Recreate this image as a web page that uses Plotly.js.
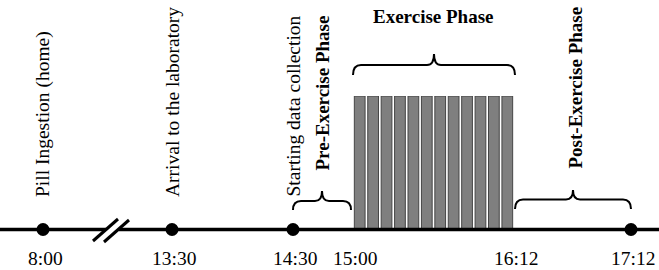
<!DOCTYPE html>
<html>
<head>
<meta charset="utf-8">
<script src="https://cdn.plot.ly/plotly-3.0.1.min.js"></script>
<style>html,body{margin:0;padding:0;background:#fff;}#chart{width:659px;height:270px;}</style>
</head>
<body>
<div id="chart"></div>
<script>
// ---- data ----
const timeLabels = ['8:00', '13:30', '14:30', '15:00', '16:12', '17:12'];
// schematic (non-linear) positions of each time point along the timeline
const timelinePos = [43, 172, 293, 353, 514, 631];
// events marked with a dot
const eventIdx = [0, 1, 2, 5];
const eventLabels = ['Pill Ingestion (home)', 'Arrival to the laboratory', 'Starting data collection'];
const eventLabelIdx = [0, 1, 2];
// phases (start index, end index into timeLabels)
const phaseNames = ['Pre-Exercise Phase', 'Exercise Phase', 'Post-Exercise Phase'];
const phaseStart = [2, 3, 4];
const phaseEnd = [3, 4, 5];
// exercise bouts
const bouts = [1, 2, 3, 4, 5, 6, 7, 8, 9, 10, 11, 12];
const boutLevel = [1, 1, 1, 1, 1, 1, 1, 1, 1, 1, 1, 1];

// ---- layout helpers ----
const W = 659, H = 270;
const lineY = 229.5;
const barTop = 96;
const serif = 'Liberation Serif, Times New Roman, serif';

const traces = [];
// exercise bouts (bars)
traces.push({
  type: 'bar', x: bouts, y: boutLevel,
  xaxis: 'x2', yaxis: 'y2', width: 0.8,
  marker: {color: '#7f7f7f', line: {color: '#454545', width: 1}},
  hoverinfo: 'skip', showlegend: false
});
// event dots
traces.push({
  type: 'scatter', mode: 'markers',
  x: eventIdx.map(i => timelinePos[i]),
  y: eventIdx.map(() => lineY),
  marker: {color: '#000', size: 13},
  hoverinfo: 'skip', showlegend: false
});

const shapes = [];
// timeline with a break
const brk = [106, 119];
shapes.push({type: 'line', xref: 'x', yref: 'y', x0: 0, x1: brk[0], y0: lineY, y1: lineY, line: {color: '#000', width: 3.5}});
shapes.push({type: 'line', xref: 'x', yref: 'y', x0: brk[1], x1: W, y0: lineY, y1: lineY, line: {color: '#000', width: 3.5}});
shapes.push({type: 'line', xref: 'x', yref: 'y', x0: 93, y0: 241, x1: 118, y1: 219, line: {color: '#000', width: 3}});
shapes.push({type: 'line', xref: 'x', yref: 'y', x0: 104, y0: 242, x1: 129, y1: 220, line: {color: '#000', width: 3}});

function brace(x0, x1, yEnd, yMid, yTip) {
  const r = 8, xm = (x0 + x1) / 2, rt = 7;
  return `M ${x0},${yEnd} Q ${x0},${yMid} ${x0 + r},${yMid} L ${xm - rt},${yMid} Q ${xm},${yMid} ${xm},${yTip} ` +
         `Q ${xm},${yMid} ${xm + rt},${yMid} L ${x1 - r},${yMid} Q ${x1},${yMid} ${x1},${yEnd}`;
}
const braceY = [[210, 201, 191], [75, 65, 54], [209, 199.5, 190]];
const braceInset = [[0, -2], [0, 1], [1, 0]];
phaseNames.forEach((p, k) => {
  const x0 = timelinePos[phaseStart[k]] + braceInset[k][0];
  const x1 = timelinePos[phaseEnd[k]] + braceInset[k][1];
  shapes.push({type: 'path', xref: 'x', yref: 'y', path: brace(x0, x1, ...braceY[k]), line: {color: '#000', width: 2}});
});

const annotations = [];
// time labels
timeLabels.forEach((t, i) => {
  annotations.push({x: timelinePos[i] + 2, y: 258, xref: 'x', yref: 'y', text: t, showarrow: false,
    xanchor: 'center', yanchor: 'middle', font: {family: serif, size: 19.5, color: '#000'}});
});
// event labels (rotated)
eventLabels.forEach((t, k) => {
  annotations.push({x: timelinePos[eventLabelIdx[k]], y: 199, xref: 'x', yref: 'y', text: t, showarrow: false,
    textangle: -90, xanchor: 'center', yanchor: 'bottom', font: {family: serif, size: 19.5, color: '#000'}});
});
// phase labels
const phaseMid = phaseNames.map((p, k) => (timelinePos[phaseStart[k]] + timelinePos[phaseEnd[k]]) / 2);
annotations.push({x: phaseMid[0] - 1, y: 173, xref: 'x', yref: 'y', text: '<b>' + phaseNames[0] + '</b>', showarrow: false,
  textangle: -90, xanchor: 'center', yanchor: 'bottom', font: {family: serif, size: 19, color: '#000'}});
annotations.push({x: phaseMid[1], y: 16, xref: 'x', yref: 'y', text: '<b>' + phaseNames[1] + '</b>', showarrow: false,
  xanchor: 'center', yanchor: 'middle', font: {family: serif, size: 19, color: '#000'}});
annotations.push({x: phaseMid[2] + 2, y: 171, xref: 'x', yref: 'y', text: '<b>' + phaseNames[2] + '</b>', showarrow: false,
  textangle: -90, xanchor: 'center', yanchor: 'bottom', font: {family: serif, size: 19, color: '#000'}});

const layout = {
  width: W, height: H,
  margin: {l: 0, r: 0, t: 0, b: 0, pad: 0},
  paper_bgcolor: '#fff', plot_bgcolor: '#fff',
  xaxis: {range: [0, W], visible: false, fixedrange: true},
  yaxis: {range: [H, 0], visible: false, fixedrange: true},
  xaxis2: {domain: [timelinePos[3] / W, timelinePos[4] / W], range: [0.5, bouts.length + 0.5], visible: false, anchor: 'y2'},
  yaxis2: {domain: [(H - lineY) / H, (H - barTop) / H], range: [0, 1], visible: false, anchor: 'x2'},
  shapes: shapes,
  annotations: annotations,
  showlegend: false
};

Plotly.newPlot('chart', traces, layout, {displayModeBar: false, staticPlot: true});
</script>
</body>
</html>
